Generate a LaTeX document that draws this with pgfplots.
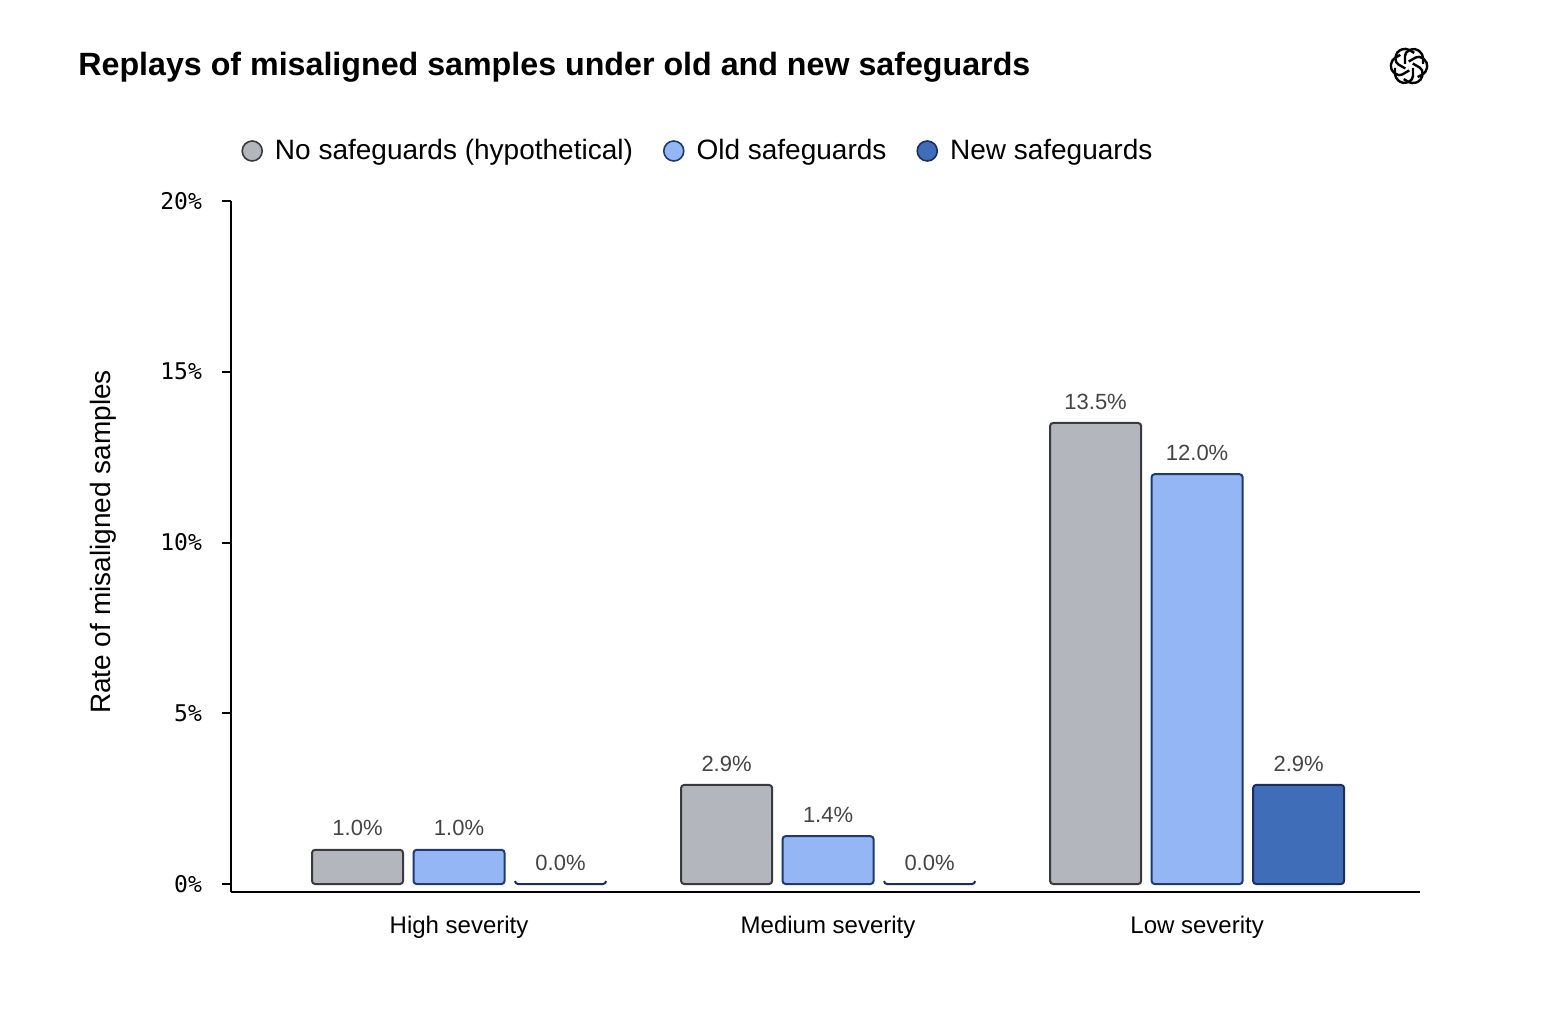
\documentclass[border=0pt]{standalone}
\usepackage{fontspec}
\setmainfont{Liberation Sans}
\setmonofont{DejaVu Sans Mono}
\usepackage{pgfplots}
\pgfplotsset{compat=1.18}
\definecolor{cgray}{HTML}{B3B6BD}
\definecolor{cgrayE}{HTML}{3A3A3C}
\definecolor{clight}{HTML}{94B6F5}
\definecolor{clightE}{HTML}{1E3A6E}
\definecolor{cdark}{HTML}{3F6DB8}
\definecolor{cdarkE}{HTML}{1A2F5F}
\definecolor{vlab}{HTML}{444444}
\begin{document}
\begin{tikzpicture}
\path[use as bounding box] (-115.5pt,-62.5pt) rectangle (655.5pt,446pt);
\begin{axis}[
  at={(0,0)}, anchor=south west,
  scale only axis, width=594.5pt, height=345.5pt,
  xmin=-0.618, xmax=2.604, ymin=-0.234, ymax=20,
  axis x line*=bottom, axis y line*=left,
  axis line style={line width=1pt, -},
  ybar=5.25pt, bar width=45.5pt,
  xtick={0,1,2}, xticklabels={High severity,Medium severity,Low severity},
  x tick label style={font=\fontsize{12}{14}\selectfont, yshift=-4pt},
  xtick style={draw=none},
  ytick={0,5,10,15,20},
  yticklabel={\ttfamily\pgfmathprintnumber{\tick}\%},
  /pgf/number format/assume math mode=true,
  y tick label style={font=\fontsize{11.5}{13}\selectfont\ttfamily, xshift=-6.5pt},
  ytick style={line width=1pt, black},
  tick align=outside, major tick length=4.5pt,
  ylabel={Rate of misaligned samples},
  every axis y label/.append style={font=\fontsize{14}{16}\selectfont, at={(-64pt,175pt)}, anchor=center, rotate=0},
  nodes near coords={\pgfmathprintnumber[fixed,fixed zerofill,precision=1]{\pgfplotspointmeta}\%},
  every node near coord/.append style={font=\fontsize{11}{13}\selectfont, text=vlab, yshift=3pt},
  legend style={at={(2pt,370.5pt)}, anchor=west, draw=none, font=\fontsize{14}{16}\selectfont,
    legend columns=3, /tikz/every odd column/.append style={column sep=4pt},
    /tikz/every even column/.append style={column sep=13pt}},
  legend image code/.code={\draw[#1, line width=0.8pt] (0pt,0pt) circle (5pt);},
  clip=false,
]
\addplot[fill=cgray, draw=cgrayE, line width=1pt, rounded corners=1.5pt] coordinates {(0,1.0) (1,2.9) (2,13.5)};
\addplot[fill=clight, draw=clightE, line width=1pt, rounded corners=1.5pt] coordinates {(0,1.0) (1,1.4) (2,12.0)};
\addplot[fill=cdark, draw=cdarkE, line width=1pt, rounded corners=1.5pt] coordinates {(0,0.0) (1,0.0) (2,2.9)};
\legend{No safeguards (hypothetical),Old safeguards,New safeguards}
\end{axis}
\node[anchor=west, inner sep=0pt, font=\fontsize{16.1}{19}\selectfont\bfseries] at (-76.5pt,412.5pt) {Replays of misaligned samples under old and new safeguards};
% decorative logo
\begin{scope}[shift={(589pt,413pt)}]
\foreach \a in {0,60,...,300}{
  \draw[line width=1.2pt, rotate=\a, rounded corners=2pt] (-2pt,1pt) -- (-2pt,7pt) -- (3pt,9pt) -- (7pt,6pt) -- (7pt,1pt);
}
\end{scope}
\end{tikzpicture}
\end{document}
